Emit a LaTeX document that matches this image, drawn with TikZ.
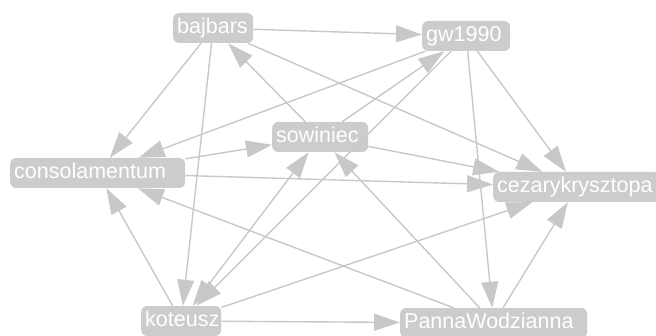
\documentclass[tikz,border=0pt]{standalone}
\usepackage{fontspec}
\setmainfont{Liberation Sans}
\usetikzlibrary{arrows.meta}
\definecolor{boxgray}{HTML}{CCCCCC}
\definecolor{edgegray}{HTML}{C8C8C8}
\tikzset{
  vbox/.style={rectangle, rounded corners=6pt, fill=boxgray, text=white,
    font=\fontsize{21.5}{24}\selectfont, inner xsep=4pt, inner ysep=4.5pt,
    text height=16pt, text depth=5pt, anchor=west, align=left,
    text width=#1-8pt, minimum width=#1},
  vbox/.default=90pt,
  edge/.style={draw=edgegray, line width=1.4pt, -{Triangle[length=26pt,width=17pt]}},
  biedge/.style={draw=edgegray, line width=1.4pt, {Triangle[length=26pt,width=17pt]}-{Triangle[length=26pt,width=17pt]}}
}
\begin{document}
\begin{tikzpicture}[x=1pt,y=1pt]
\useasboundingbox (0,0) rectangle (656,335);
\begin{scope}
\clip (0,0) rectangle (656,335);
\node[vbox=80pt] (baj) at (173,307) {bajbars};
\node[vbox=88pt] (gw) at (422,299) {gw1990};
\node[vbox=96pt] (sow) at (272,198) {sowiniec};
\node[vbox=175pt] (con) at (10,162) {consolamentum};
\node[vbox=168pt] (cez) at (493,148) {cezarykrysztopa};
\node[vbox=80pt] (kot) at (141,14) {koteusz};
\node[vbox=187pt] (pan) at (400,12) {PannaWodzianna};

\draw[edge] (baj) -- (gw);
\draw[edge] (baj) -- (con);
\draw[edge] (baj) -- (kot);
\draw[edge] (baj) -- (cez);
\draw[edge] (sow) -- (baj);
\draw[edge] (sow) -- (gw);
\draw[edge] (sow) -- (cez);
\draw[biedge] (sow) -- (kot);
\draw[edge] (gw) -- (con);
\draw[edge] (gw) -- (kot);
\draw[edge] (gw) -- (pan);
\draw[edge] (gw) -- (cez);
\draw[edge] (con) -- (sow);
\draw[edge] (con) -- (cez);
\draw[edge] (kot) -- (con);
\draw[edge] (kot) -- (pan);
\draw[edge] (kot) -- (cez);
\draw[edge] (pan) -- (con);
\draw[edge] (pan) -- (sow);
\draw[edge] (pan) -- (cez);
\end{scope}
\end{tikzpicture}
\end{document}
